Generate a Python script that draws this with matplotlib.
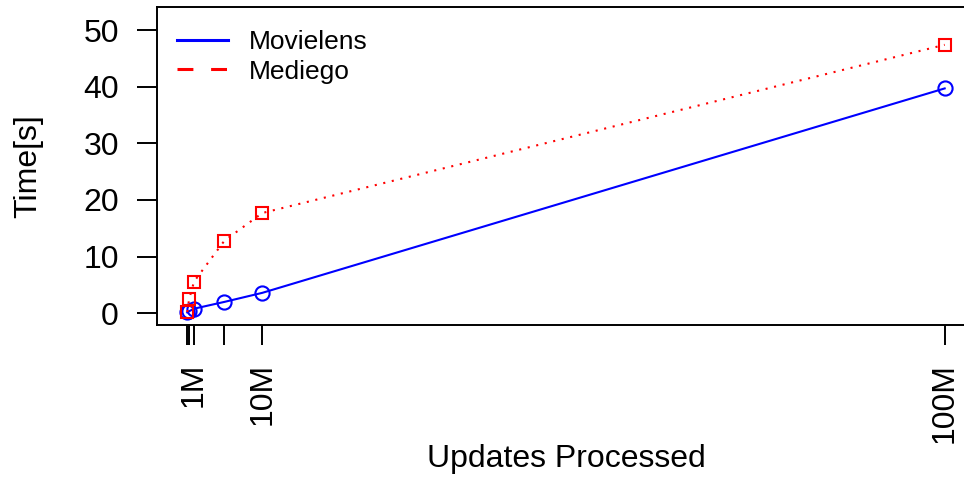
import matplotlib
matplotlib.use("Agg")
import matplotlib.pyplot as plt
from matplotlib.lines import Line2D

plt.rcParams['font.family'] = ['Liberation Sans', 'DejaVu Sans']

# Data (updates in millions, time in seconds)
updates_m = [0.1, 0.35, 1, 5, 10, 100]
movielens = [0.15, 0.35, 0.8, 2.0, 3.6, 39.7]
mediego = [0.2, 2.5, 5.6, 12.8, 17.7, 47.4]
xtick_vals = [0.1, 0.35, 1, 5, 10, 100]
xtick_labels = ['', '', '1M', '', '10M', '100M']
ytick_vals = [0, 10, 20, 30, 40, 50]

W, H = 964, 479
fig = plt.figure(figsize=(W / 100, H / 100), dpi=100)
ax = fig.add_axes([157 / W, 1 - 325 / H, 818 / W, 318 / H])

ax.plot(updates_m, movielens, color='#0000ff', lw=1.5, linestyle='-',
        marker='o', ms=10.2, mfc='none', mec='#0000ff', mew=1.5)
ax.plot(updates_m, mediego, color='#ff0000', lw=1.5, linestyle=(0, (1, 3.2)),
        marker='s', ms=9.2, mfc='none', mec='#ff0000', mew=1.5)

ax.set_xlim(-3.89, 104.0)
ax.set_ylim(-2.08, 54.08)

ax.set_xticks(xtick_vals)
ax.set_xticklabels(xtick_labels, rotation=90)
ax.set_yticks(ytick_vals)
ax.set_yticklabels([str(v) for v in ytick_vals])

ax.tick_params(axis='both', direction='out', length=14.4, width=1.4,
               labelsize=23, pad=13, colors='black')
for s in ax.spines.values():
    s.set_linewidth(1.4)
    s.set_color('black')

ax.set_xlabel('Updates Processed', fontsize=23)
ax.set_ylabel('Time[s]', fontsize=23)
ax.xaxis.set_label_coords(0.5, (325 - 444) / 318)
ax.yaxis.set_label_coords((43 - 157) / 818, 0.5)

handles = [
    Line2D([], [], color='#0000ff', lw=2.2, linestyle='-'),
    Line2D([], [], color='#ff0000', lw=2.2, linestyle=(0, (5.2, 5.8))),
]
ax.legend(handles, ['Movielens', 'Mediego'], loc='upper left',
          bbox_to_anchor=(0.025, 0.928), borderaxespad=0, borderpad=0,
          frameon=False, fontsize=19, handlelength=1.9, handletextpad=0.8,
          labelspacing=0.22)

fig.savefig('out.png', dpi=100)
